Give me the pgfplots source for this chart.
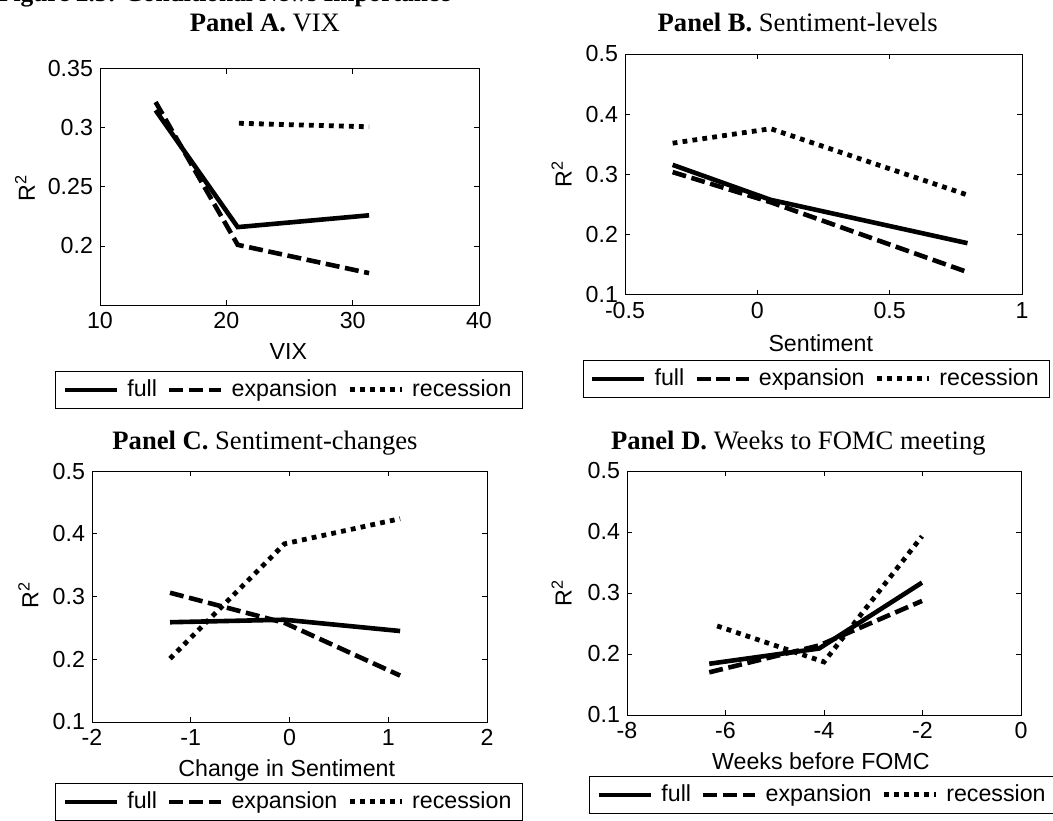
\documentclass[border=0pt]{standalone}
\usepackage{fontspec}
\setmainfont{Liberation Sans}
\newfontfamily\tnr{Liberation Serif}
\usepackage{pgfplots}
\pgfplotsset{compat=1.18}
\pgfplotsset{
  mystyle/.style={
    scale only axis,
    tick align=inside,
    major tick length=2.5pt,
    axis line style={line width=0.5pt},
    every tick/.style={black, line width=0.5pt},
    tick label style={font=\fontsize{11.6}{13}\selectfont},
    label style={font=\fontsize{11.6}{13}\selectfont},
    ylabel={R\textsuperscript{2}},
    every axis title shift=0pt,
    title style={font=\tnr\fontsize{13.3}{15}\selectfont, anchor=center},
    legend columns=-1,
    legend style={draw=black, line width=0.5pt, anchor=north,
      font=\fontsize{11.6}{13}\selectfont, inner xsep=3.5pt, inner ysep=2.2pt,
      nodes={inner xsep=2pt, inner ysep=2pt},
      /tikz/every odd column/.append style={column sep=2pt},
      /tikz/every even column/.append style={column sep=3pt}},
    legend image code/.code={\draw[##1] (0pt,0pt) -- (26pt,0pt);},
    clip=false,
  },
  full/.style={black, line width=2.3pt, line join=miter},
  expa/.style={black, line width=2.3pt, dash pattern=on 7pt off 2.8pt},
  rece/.style={black, line width=2.4pt, dash pattern=on 2.4pt off 2.6pt},
}
\begin{document}
\begin{tikzpicture}
\node[anchor=base west, font=\tnr\bfseries\fontsize{12.7}{15}\selectfont] at (-4.5pt,409.3pt) {Figure 2.5: Conditional News Importance};

% Panel A
\begin{axis}[mystyle,
  at={(50pt,257.5pt)}, anchor=south west, width=189.5pt, height=118pt,
  xmin=10, xmax=40, ymin=0.15, ymax=0.35,
  xtick={10,20,30,40}, xticklabels={10,20,30,40},
  ytick={0.15,0.2,0.25,0.3,0.35}, yticklabels={,0.2,0.25,0.3,0.35},
  xlabel={VIX},
  xlabel style={at={(0.497,-0.198)}, anchor=center},
  ylabel style={at={(-0.198,0.496)}, anchor=center},
  title={\textbf{Panel A.} VIX}, title style={at={(0.435,1.199)}},
  legend style={at={(0.499,-0.28)}},
]
\addplot[full] coordinates {(14.4,0.315) (20.9,0.216) (31.3,0.226)};
\addplot[expa] coordinates {(14.4,0.322) (20.9,0.201) (31.3,0.177)};
\addplot[rece] coordinates {(21.0,0.304) (31.3,0.301)};
\legend{full,expansion,recession}
\end{axis}

% Panel B
\begin{axis}[mystyle,
  at={(312.5pt,262.5pt)}, anchor=south west, width=198.5pt, height=120.5pt,
  xmin=-0.5, xmax=1, ymin=0.1, ymax=0.5,
  xtick={-0.5,0,0.5,1}, xticklabels={-0.5,0,0.5,1},
  ytick={0.1,0.2,0.3,0.4,0.5}, yticklabels={0.1,0.2,0.3,0.4,0.5},
  xlabel={Sentiment},
  xlabel style={at={(0.493,-0.2)}, anchor=center},
  ylabel style={at={(-0.16,0.502)}, anchor=center},
  title={\textbf{Panel B.} Sentiment-levels}, title style={at={(0.435,1.129)}},
  legend style={at={(0.482,-0.27)}},
]
\addplot[full] coordinates {(-0.32,0.316) (0.05,0.258) (0.794,0.186)};
\addplot[expa] coordinates {(-0.32,0.304) (0.05,0.254) (0.794,0.138)};
\addplot[rece] coordinates {(-0.32,0.352) (0.05,0.376) (0.794,0.266)};
\legend{full,expansion,recession}
\end{axis}

% Panel C
\begin{axis}[mystyle,
  at={(46pt,49pt)}, anchor=south west, width=197.5pt, height=125.5pt,
  xmin=-2, xmax=2, ymin=0.1, ymax=0.5,
  xtick={-2,-1,0,1,2}, xticklabels={-2,-1,0,1,2},
  ytick={0.1,0.2,0.3,0.4,0.5}, yticklabels={0.1,0.2,0.3,0.4,0.5},
  xlabel={Change in Sentiment},
  xlabel style={at={(0.493,-0.192)}, anchor=center},
  ylabel style={at={(-0.161,0.505)}, anchor=center},
  title={\textbf{Panel C.} Sentiment-changes}, title style={at={(0.438,1.112)}},
  legend style={at={(0.499,-0.243)}},
]
\addplot[full] coordinates {(-1.21,0.259) (-0.05,0.263) (1.12,0.245)};
\addplot[expa] coordinates {(-1.21,0.306) (-0.05,0.258) (1.12,0.174)};
\addplot[rece] coordinates {(-1.21,0.201) (-0.05,0.384) (1.12,0.424)};
\legend{full,expansion,recession}
\end{axis}

% Panel D
\begin{axis}[mystyle,
  at={(313.5pt,52.5pt)}, anchor=south west, width=197pt, height=122pt,
  xmin=-8, xmax=0, ymin=0.1, ymax=0.5,
  xtick={-8,-6,-4,-2,0}, xticklabels={-8,-6,-4,-2,0},
  ytick={0.1,0.2,0.3,0.4,0.5}, yticklabels={0.1,0.2,0.3,0.4,0.5},
  xlabel={Weeks before FOMC},
  xlabel style={at={(0.492,-0.191)}, anchor=center},
  ylabel style={at={(-0.166,0.499)}, anchor=center},
  title={\textbf{Panel D.} Weeks to FOMC meeting}, title style={at={(0.435,1.115)}},
  legend style={at={(0.498,-0.25)}},
]
\addplot[full] coordinates {(-6.33,0.184) (-4.1,0.209) (-2.01,0.317)};
\addplot[expa] coordinates {(-6.33,0.170) (-4.1,0.214) (-2.01,0.287)};
\addplot[rece] coordinates {(-6.17,0.246) (-4.0,0.187) (-2.01,0.393)};
\legend{full,expansion,recession}
\end{axis}

\pgfresetboundingbox
\useasboundingbox (0,0) rectangle (526.5pt,410pt);
\end{tikzpicture}
\end{document}
